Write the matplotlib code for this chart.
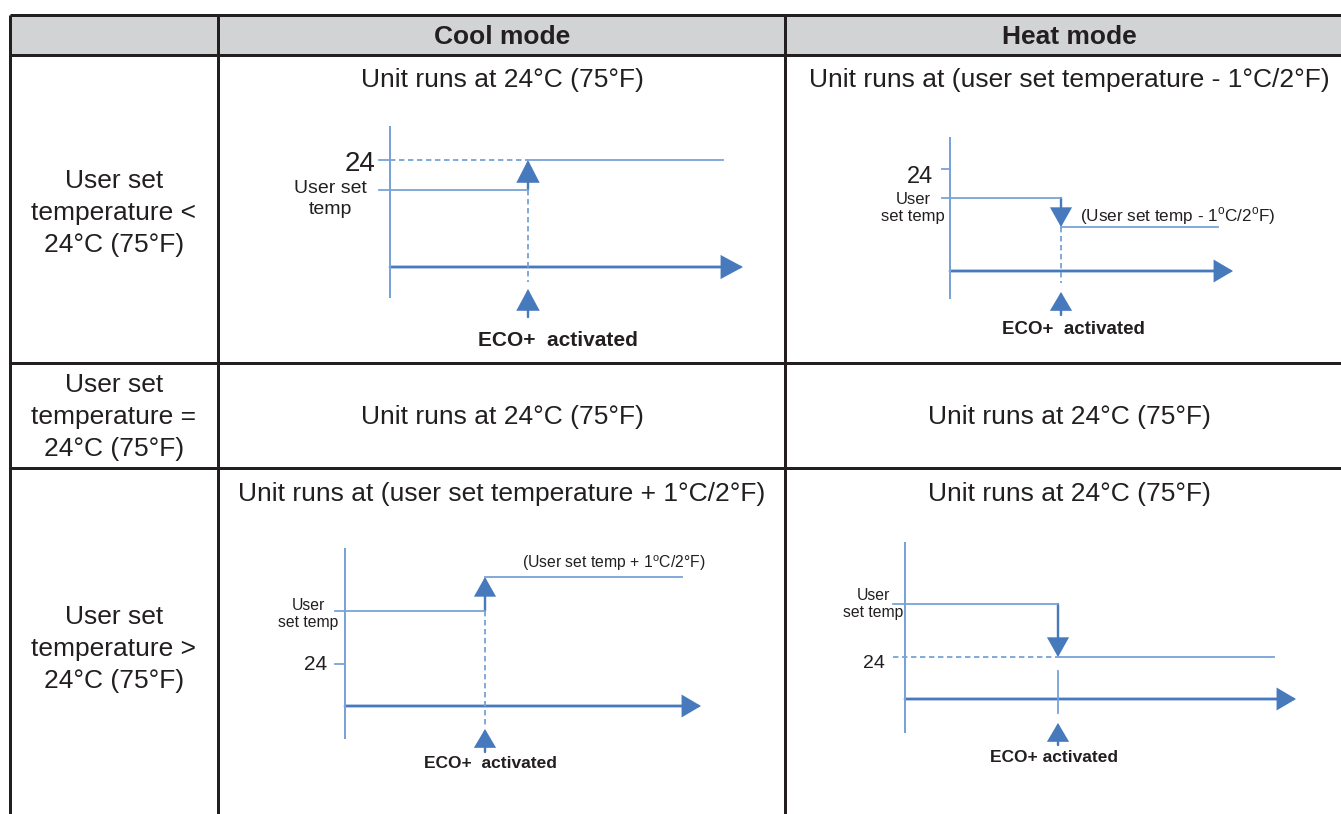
import matplotlib
matplotlib.use("Agg")
import matplotlib.pyplot as plt
from matplotlib.patches import FancyArrowPatch, Rectangle

plt.rcParams['font.family'] = ['Liberation Sans', 'DejaVu Sans']

# ---- table content ----
modes = ['Cool mode', 'Heat mode']
row_labels = ['User set\ntemperature <\n24°C (75°F)',
              'User set\ntemperature =\n24°C (75°F)',
              'User set\ntemperature >\n24°C (75°F)']
cool_text = ['Unit runs at 24°C (75°F)',
             'Unit runs at 24°C (75°F)',
             'Unit runs at (user set temperature + 1°C/2°F)']
heat_text = ['Unit runs at (user set temperature - 1°C/2°F)',
             'Unit runs at 24°C (75°F)',
             'Unit runs at 24°C (75°F)']

# ---- step diagrams (cool <24, heat <24, cool >24, heat >24) ----
# levels are heights above the time axis, schematic units
user_level = [77, 73, 95, 95]
after_level = [107, 44, 129, 42]
ref24_level = [107, 102, 42, 42]
switch_time = [138, 111, 140, 153]
end_time = [333, 268, 337, 369]
time_axis_len = [353, 283, 356, 391]
after_labels = ['', r'(User set temp - 1$^\mathregular{o}$C/2$^\mathregular{o}$F)',
                r'(User set temp + 1$^\mathregular{o}$C/2°F)', '']
eco_labels = ['ECO+  activated', 'ECO+  activated', 'ECO+  activated', 'ECO+ activated']

W, H = 1341, 814
DARK = '#231f20'
LIGHT_BLUE = '#78a2d8'
BLUE = '#4779bd'
PX = 0.72  # px -> pt at dpi 100

fig = plt.figure(figsize=(W / 100, H / 100), dpi=100)
ax = fig.add_axes([0, 0, 1, 1])
ax.set_xlim(0, W)
ax.set_ylim(H, 0)
ax.axis('off')

# grid
col_x = [10, 218, 785]
row_y = [15, 55, 363, 468]
ax.add_patch(Rectangle((10, 15), W - 10, 40, facecolor='#d1d3d4', edgecolor='none'))
for y in row_y:
    ax.plot([10, W], [y, y], color=DARK, lw=3 * PX, solid_capstyle='butt')
for x in col_x:
    ax.plot([x, x], [15, H], color=DARK, lw=3 * PX, solid_capstyle='butt')

col_centers = [114, 502, 1069]
for m, cx in zip(modes, col_centers[1:]):
    ax.text(cx, 37, m, ha='center', va='center', fontsize=19, fontweight='bold', color=DARK)

label_y = [213, 417, 649]
for lab, y in zip(row_labels, label_y):
    ax.text(col_centers[0], y, lab, ha='center', va='center', fontsize=19,
            color=DARK, linespacing=1.4)

text_y = [80, 417, 494]
for t, y in zip(cool_text, text_y):
    ax.text(col_centers[1], y, t, ha='center', va='center', fontsize=19, color=DARK)
for t, y in zip(heat_text, text_y):
    ax.text(col_centers[2], y, t, ha='center', va='center', fontsize=19, color=DARK)

# ---- layout of the small diagrams (pixel origin of each time axis) ----
origins = [(390, 267), (950, 271), (345, 706), (905, 699)]
axis_top = [140, 133, 157, 156]
axis_bottom = [30, 27, 32, 33]
tick_len = [11, 8, 10, 12]
drop_span = [(77, -15), (44, -12), (95, -21), (28, -14)]
drop_dashed = [True, True, True, False]
eco_arrow = [(-50, -22), (-44, -21), (-46, -23), (-46, -24)]
ref24_text = [(-15, 103, 20), (-17, 94, 17), (-18, 41, 15), (-20, 36, 14)]
user_text = [(-60, 68, 14), (-37, 63, 12), (-37, 92, 11.3), (-32, 95, 11.3)]
after_text = [None, (130, 55, 12.3), (177, 143, 11.3), None]
eco_text = [(168, -73, 15), (123, -58, 13.5), (145, -57, 12.5), (149, -59, 12.5)]
head_big = [(13, 7), (11, 6.5), (11, 6.5), (11, 6.5)]

XL, XR, YB, YT = -100, 430, -95, 180


def arrow(a, p0, p1, color, lw, hl, hw):
    a.add_patch(FancyArrowPatch(p0, p1, arrowstyle=f'-|>,head_length={hl},head_width={hw}',
                                color=color, lw=lw, mutation_scale=1,
                                shrinkA=0, shrinkB=0, joinstyle='miter'))


for i, (ox, oy) in enumerate(origins):
    left, bottom = ox + XL, oy - YB
    sub = fig.add_axes([left / W, 1 - bottom / H, (XR - XL) / W, (YT - YB) / H])
    sub.set_xlim(XL, XR)
    sub.set_ylim(YB, YT)
    sub.axis('off')
    sub.patch.set_alpha(0)

    hl, hw = head_big[i]
    # temperature axis and time axis
    sub.plot([0, 0], [-axis_bottom[i], axis_top[i]], color=LIGHT_BLUE, lw=2 * PX)
    arrow(sub, (0, 0), (time_axis_len[i], 0), BLUE, 2.8 * PX, hl, hw)

    sw = switch_time[i]
    u, a, r = user_level[i], after_level[i], ref24_level[i]
    # 24 reference
    if i == 0:
        sub.plot([-tick_len[i], 0], [r, r], color=LIGHT_BLUE, lw=1.8 * PX)
        sub.plot([0, sw], [r, r], color=LIGHT_BLUE, lw=1.8 * PX, ls=(0, (3, 2)))
    elif i == 3:
        sub.plot([-tick_len[i], sw], [r, r], color=LIGHT_BLUE, lw=1.8 * PX, ls=(0, (3, 2)))
    else:
        sub.plot([-tick_len[i], 0], [r, r], color=LIGHT_BLUE, lw=1.8 * PX)
    # user set temp line, step, and new level
    sub.plot([-tick_len[i], sw], [u, u], color=LIGHT_BLUE, lw=1.8 * PX)
    arrow(sub, (sw, u), (sw, a), BLUE, 2.4 * PX, hl * 1.05, hw)
    sub.plot([sw, end_time[i]], [a, a], color=LIGHT_BLUE, lw=1.8 * PX)
    # drop line to activation point
    d0, d1 = drop_span[i]
    sub.plot([sw, sw], [d0, d1], color=LIGHT_BLUE, lw=1.8 * PX,
             ls=(0, (3, 2)) if drop_dashed[i] else '-')
    e0, e1 = eco_arrow[i]
    arrow(sub, (sw, e0), (sw, e1), BLUE, 2.4 * PX, hl, hw)

    tx, ty, fs = ref24_text[i]
    sub.text(tx, ty, '24', ha='right', va='center', fontsize=fs, color=DARK)
    tx, ty, fs = user_text[i]
    ulab = 'User set\ntemp' if i == 0 else 'User\nset temp'
    sub.text(tx, ty, ulab, ha='center', va='center', fontsize=fs, color=DARK, linespacing=1.25)
    if after_text[i]:
        tx, ty, fs = after_text[i]
        sub.text(tx, ty, after_labels[i], ha='left', va='center', fontsize=fs, color=DARK)
    tx, ty, fs = eco_text[i]
    sub.text(tx, ty, eco_labels[i], ha='center', va='center', fontsize=fs,
             fontweight='bold', color=DARK)

fig.savefig('out.png', dpi=100)
